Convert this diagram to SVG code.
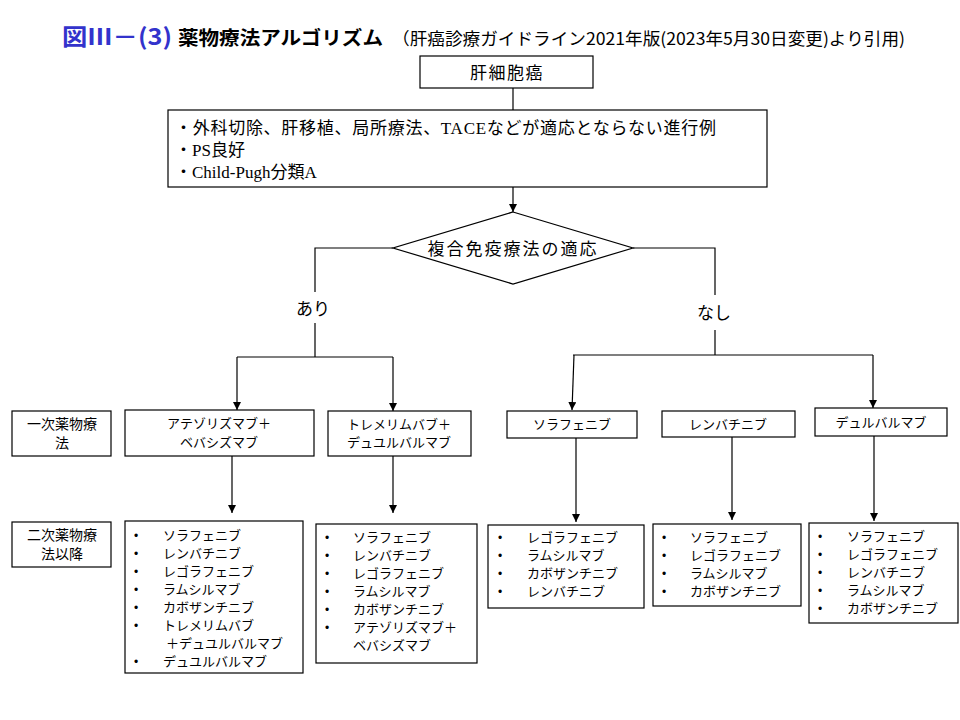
<svg xmlns="http://www.w3.org/2000/svg" width="960" height="720" viewBox="0 0 960 720">
<defs>
<marker id="arr" markerUnits="userSpaceOnUse" markerWidth="8" markerHeight="8" refX="8" refY="4" orient="auto">
<path d="M0,0 L8,4 L0,8 z" fill="#000"/>
</marker>
<style>
.box{fill:#fff;stroke:#000;stroke-width:1.2}
.ln{fill:none;stroke:#000;stroke-width:1.2}
.ar{fill:none;stroke:#000;stroke-width:1.2;marker-end:url(#arr)}
.jp{font-family:"Noto Sans CJK JP","Noto Sans",sans-serif;fill:#000}
.t13{font-size:13px}
.t14{font-size:14px}
.t17{font-size:17px}
.mix{font-family:"Liberation Serif","Noto Sans CJK JP",serif;font-size:17px;fill:#000}
.bul{font-family:"Liberation Sans",sans-serif;font-size:12px;fill:#000}
.c{text-anchor:middle}
</style>
</defs>
<rect width="960" height="720" fill="#fff"/>

<g id="title">
<text x="62" y="45" class="jp" font-size="23" font-weight="bold" style="fill:#3333CC" textLength="110" lengthAdjust="spacingAndGlyphs">図Ⅲ－(3)</text>
<text x="178" y="45" class="jp" font-size="19" font-weight="bold" textLength="205" lengthAdjust="spacingAndGlyphs">薬物療法アルゴリズム</text>
<text x="392" y="45" class="jp t17" textLength="513" lengthAdjust="spacingAndGlyphs">（肝癌診療ガイドライン2021年版(2023年5月30日変更)より引用)</text>
</g>

<g id="connectors">
<line class="ln" x1="513" y1="88" x2="513" y2="110"/>
<line class="ar" x1="513" y1="187" x2="513" y2="212"/>
<path class="ln" d="M393,248 H315 V292"/>
<path class="ln" d="M315,323 V357 M237,357 H393"/>
<line class="ar" x1="237" y1="357" x2="237" y2="410"/>
<line class="ar" x1="393" y1="357" x2="393" y2="411"/>
<path class="ln" d="M633,248 H715 V295"/>
<path class="ln" d="M715,330 V355 M573,355 H873"/>
<line class="ar" x1="574" y1="355" x2="572" y2="410"/>
<line class="ar" x1="873" y1="355" x2="873" y2="408"/>
<line class="ar" x1="232" y1="456" x2="232" y2="513"/>
<line class="ar" x1="393" y1="456" x2="393" y2="513"/>
<line class="ar" x1="576" y1="438" x2="576" y2="522"/>
<line class="ar" x1="732" y1="437" x2="732" y2="520"/>
<line class="ar" x1="874" y1="436" x2="874" y2="521"/>
</g>

<g id="hcc">
<rect class="box" x="420" y="56" width="173" height="32"/>
<text x="507" y="79" class="jp t17 c" letter-spacing="1.5">肝細胞癌</text>
</g>

<g id="criteria">
<rect class="box" x="168" y="110" width="599" height="77"/>
<text x="175" y="134" class="mix" textLength="541" lengthAdjust="spacing">・外科切除、肝移植、局所療法、TACEなどが適応とならない進行例</text>
<text x="175" y="156" class="mix">・PS良好</text>
<text x="175" y="178" class="mix">・Child-Pugh分類A</text>
</g>

<g id="decision">
<polygon class="box" points="513,212 633,248 513,284 393,248"/>
<text x="512" y="255" class="jp t17 c" textLength="169" lengthAdjust="spacing">複合免疫療法の適応</text>
</g>

<g id="label-yes">
<text x="313" y="315" class="jp t17 c">あり</text>
</g>
<g id="label-no">
<text x="714" y="319" class="jp t17 c">なし</text>
</g>

<g id="first-line-label">
<rect class="box" x="12" y="411" width="99" height="45"/>
<text x="62" y="429" class="jp t14 c">一次薬物療</text>
<text x="62" y="448" class="jp t14 c">法</text>
</g>

<g id="atezo-bev">
<rect class="box" x="125" y="410" width="189" height="46"/>
<text x="219" y="428" class="jp t13 c">アテゾリズマブ＋</text>
<text x="219" y="447" class="jp t13 c">ベバシズマブ</text>
</g>

<g id="treme-durva">
<rect class="box" x="328" y="411" width="143" height="45"/>
<text x="399" y="429" class="jp t13 c">トレメリムバブ＋</text>
<text x="399" y="447" class="jp t13 c">デュユルバルマブ</text>
</g>

<g id="sorafenib">
<rect class="box" x="507" y="411" width="130" height="27"/>
<text x="572" y="429" class="jp t13 c">ソラフェニブ</text>
</g>

<g id="lenvatinib">
<rect class="box" x="662" y="411" width="133" height="26"/>
<text x="728" y="429" class="jp t13 c">レンバチニブ</text>
</g>

<g id="durvalumab">
<rect class="box" x="815" y="408" width="132" height="28"/>
<text x="881" y="427" class="jp t13 c">デュルバルマブ</text>
</g>

<g id="second-line-label">
<rect class="box" x="12" y="522" width="99" height="45"/>
<text x="62" y="540" class="jp t14 c">二次薬物療</text>
<text x="62" y="559" class="jp t14 c">法以降</text>
</g>

<g id="list-a">
<rect class="box" x="125" y="521" width="178" height="152"/>
<g class="bul">
<text x="134" y="540">•</text><text x="134" y="558">•</text><text x="134" y="576">•</text><text x="134" y="594">•</text><text x="134" y="612">•</text><text x="134" y="630">•</text><text x="134" y="666">•</text>
</g>
<text x="163" y="540" class="jp t13">ソラフェニブ</text>
<text x="163" y="558" class="jp t13">レンバチニブ</text>
<text x="163" y="576" class="jp t13">レゴラフェニブ</text>
<text x="163" y="594" class="jp t13">ラムシルマブ</text>
<text x="163" y="612" class="jp t13">カボザンチニブ</text>
<text x="163" y="630" class="jp t13">トレメリムバブ</text>
<text x="166" y="648" class="jp t13">＋デュユルバルマブ</text>
<text x="163" y="666" class="jp t13">デュユルバルマブ</text>
</g>

<g id="list-b">
<rect class="box" x="316" y="524" width="161" height="139"/>
<g class="bul">
<text x="325" y="542">•</text><text x="325" y="560">•</text><text x="325" y="578">•</text><text x="325" y="596">•</text><text x="325" y="614">•</text><text x="325" y="632">•</text>
</g>
<text x="353" y="542" class="jp t13">ソラフェニブ</text>
<text x="353" y="560" class="jp t13">レンバチニブ</text>
<text x="353" y="578" class="jp t13">レゴラフェニブ</text>
<text x="353" y="596" class="jp t13">ラムシルマブ</text>
<text x="353" y="614" class="jp t13">カボザンチニブ</text>
<text x="353" y="632" class="jp t13">アテゾリズマブ＋</text>
<text x="353" y="650" class="jp t13">ベバシズマブ</text>
</g>

<g id="list-c">
<rect class="box" x="488" y="525" width="156" height="83"/>
<g class="bul">
<text x="498" y="542">•</text><text x="498" y="560">•</text><text x="498" y="578">•</text><text x="498" y="596">•</text>
</g>
<text x="527" y="542" class="jp t13">レゴラフェニブ</text>
<text x="527" y="560" class="jp t13">ラムシルマブ</text>
<text x="527" y="578" class="jp t13">カボザンチニブ</text>
<text x="527" y="596" class="jp t13">レンバチニブ</text>
</g>

<g id="list-d">
<rect class="box" x="653" y="524" width="148" height="82"/>
<g class="bul">
<text x="662" y="542">•</text><text x="662" y="560">•</text><text x="662" y="578">•</text><text x="662" y="596">•</text>
</g>
<text x="690" y="542" class="jp t13">ソラフェニブ</text>
<text x="690" y="560" class="jp t13">レゴラフェニブ</text>
<text x="690" y="578" class="jp t13">ラムシルマブ</text>
<text x="690" y="596" class="jp t13">カボザンチニブ</text>
</g>

<g id="list-e">
<rect class="box" x="809" y="523" width="149" height="100"/>
<g class="bul">
<text x="818" y="541">•</text><text x="818" y="559">•</text><text x="818" y="577">•</text><text x="818" y="595">•</text><text x="818" y="613">•</text>
</g>
<text x="847" y="541" class="jp t13">ソラフェニブ</text>
<text x="847" y="559" class="jp t13">レゴラフェニブ</text>
<text x="847" y="577" class="jp t13">レンバチニブ</text>
<text x="847" y="595" class="jp t13">ラムシルマブ</text>
<text x="847" y="613" class="jp t13">カボザンチニブ</text>
</g>
</svg>
